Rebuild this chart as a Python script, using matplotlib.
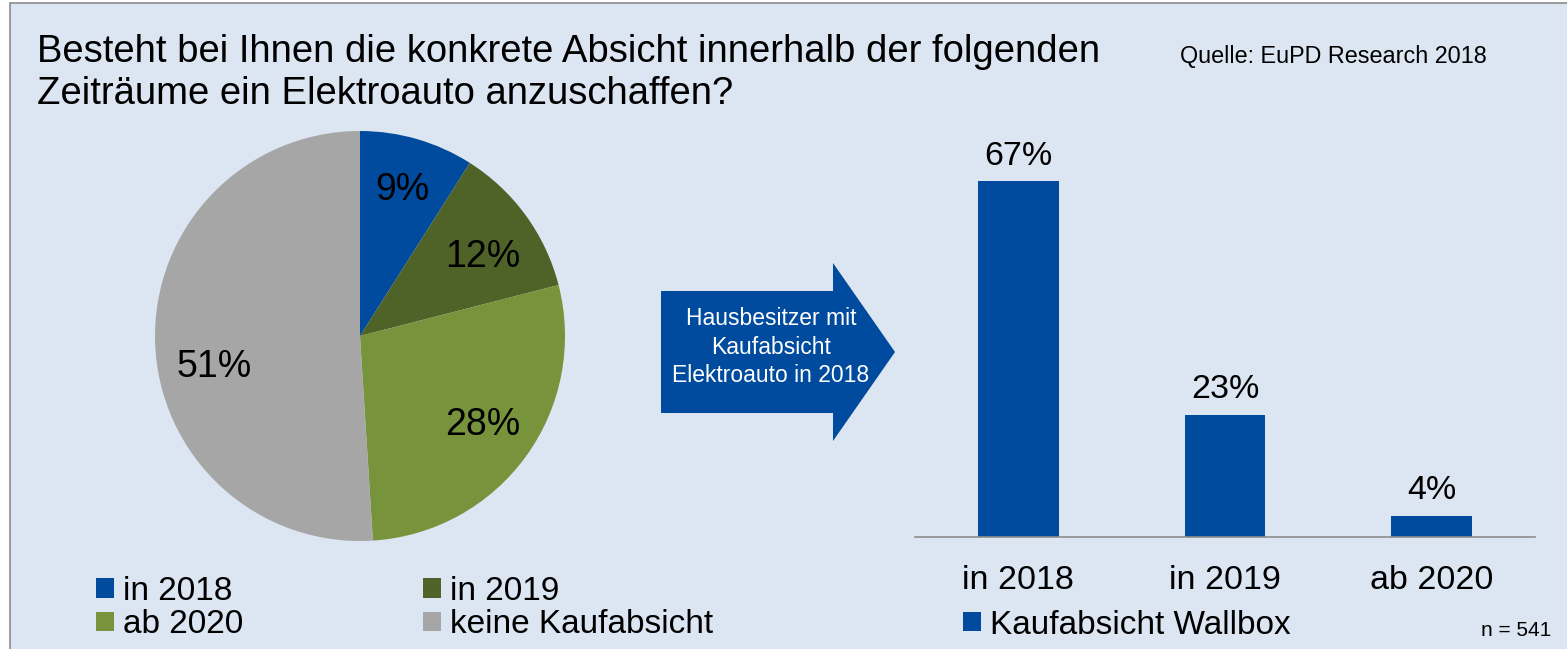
import matplotlib
matplotlib.use("Agg")
import matplotlib.pyplot as plt
import numpy as np
from matplotlib.patches import Patch, Polygon, Rectangle

plt.rcParams["font.family"] = ["Liberation Sans", "DejaVu Sans"]

# ---------------------------------------------------------------------------
# Data
# ---------------------------------------------------------------------------
pie_labels = ["in 2018", "in 2019", "ab 2020", "keine Kaufabsicht"]
pie_values = [9, 12, 28, 51]
pie_colors = ["#004B9E", "#4F6228", "#77933C", "#A6A6A6"]

bar_labels = ["in 2018", "in 2019", "ab 2020"]
bar_values = [67, 23, 4]
bar_series = "Kaufabsicht Wallbox"
bar_color = "#004B9E"

BG = "#DCE6F2"
W, H = 1567, 649


def fx(px):
    return px / W


def fy(py):
    return 1 - py / H


fig = plt.figure(figsize=(W / 100, H / 100), dpi=100)
fig.patch.set_facecolor("white")
fig.patches.append(Rectangle((fx(10), fy(H + 5)), 1, fy(3) - fy(H + 5),
                             transform=fig.transFigure, facecolor=BG,
                             edgecolor="#8C8C8C", linewidth=1.2, zorder=-1))

# Title and source
fig.text(fx(37), fy(73), "Besteht bei Ihnen die konkrete Absicht innerhalb der folgenden\n"
         "Zeiträume ein Elektroauto anzuschaffen?", fontsize=27.5, ha="left",
         va="center", linespacing=1.2)
fig.text(fx(1180), fy(57), "Quelle: EuPD Research 2018", fontsize=16.8, ha="left", va="center")
fig.text(fx(1551), fy(631), "n = 541", fontsize=15, ha="right", va="center")

# ---------------------------------------------------------------------------
# Pie
# ---------------------------------------------------------------------------
ax_pie = fig.add_axes([fx(155), fy(541), fx(410), fy(131) - fy(541)])
ax_pie.set_facecolor("none")
wedges, _, autotexts = ax_pie.pie(
    pie_values, colors=pie_colors, startangle=90, counterclock=False,
    autopct=lambda p: f"{p:.0f}%", pctdistance=0.74,
    textprops={"fontsize": 27, "color": "black"},
)
# the large grey label sits a little below its wedge's middle in the original
x51, y51 = autotexts[3].get_position()
autotexts[3].set_position((x51 + 0.03, y51 - 0.13))
x12, y12 = autotexts[1].get_position()
autotexts[1].set_position((x12, y12 - 0.05))
ax_pie.set_xlim(-1, 1)
ax_pie.set_ylim(-1, 1)
ax_pie.set_aspect("equal")

order = [0, 2, 1, 3]
fig.legend([Patch(facecolor=pie_colors[i]) for i in order],
           [pie_labels[i] for i in order],
           loc="center left", bbox_to_anchor=(fx(96), fy(608)), ncol=2,
           frameon=False, fontsize=24, handlelength=0.55, handleheight=0.52,
           handletextpad=0.25, columnspacing=5.4, labelspacing=0.08,
           borderpad=0, borderaxespad=0)

# ---------------------------------------------------------------------------
# Arrow
# ---------------------------------------------------------------------------
arrow_px = [(661, 291), (833, 291), (833, 263), (895, 352),
            (833, 441), (833, 413), (661, 413)]
fig.patches.append(Polygon([(fx(x), fy(y)) for x, y in arrow_px], closed=True,
                           transform=fig.transFigure, facecolor="#004B9E",
                           edgecolor="none"))
fig.text(fx(771), fy(347), "Hausbesitzer mit\nKaufabsicht\nElektroauto in 2018",
         color="white", fontsize=16.5, ha="center", va="center", linespacing=1.3)

# ---------------------------------------------------------------------------
# Bars
# ---------------------------------------------------------------------------
ax_bar = fig.add_axes([fx(915), fy(537), fx(1535) - fx(915), fy(139) - fy(537)])
ax_bar.set_facecolor("none")
xpos = np.arange(len(bar_values))
bars = ax_bar.bar(xpos, bar_values, width=0.39, color=bar_color, label=bar_series)
ax_bar.bar_label(bars, labels=[f"{v}%" for v in bar_values], padding=7, fontsize=24.5)
ax_bar.set_xlim(-0.5, len(bar_values) - 0.5)
ax_bar.set_ylim(0, 75)
ax_bar.set_xticks(xpos)
ax_bar.set_xticklabels(bar_labels, fontsize=24.5)
ax_bar.tick_params(axis="x", length=0, pad=20)
ax_bar.set_yticks([])
for side in ("top", "right", "left"):
    ax_bar.spines[side].set_visible(False)
ax_bar.spines["bottom"].set_color("#8C8C8C")
ax_bar.spines["bottom"].set_linewidth(1.2)

fig.legend([Patch(facecolor=bar_color)], [bar_series], loc="center left",
           bbox_to_anchor=(fx(963), fy(625)), frameon=False, fontsize=24,
           handlelength=0.55, handleheight=0.52, handletextpad=0.25,
           borderpad=0, borderaxespad=0)

fig.savefig("out.png", dpi=100, facecolor=fig.get_facecolor())
